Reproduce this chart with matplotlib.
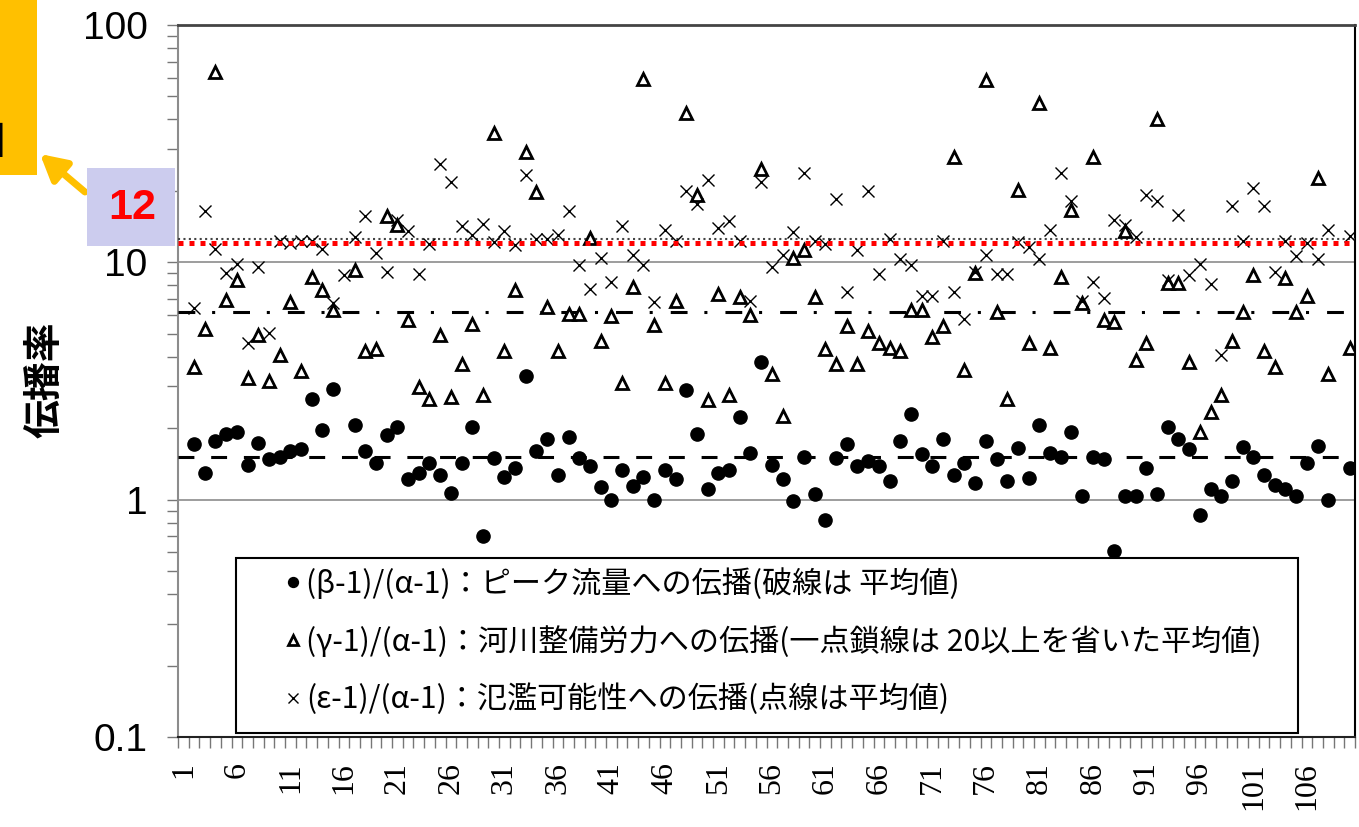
import numpy as np
import matplotlib
matplotlib.use('Agg')
import matplotlib.pyplot as plt
from matplotlib.patches import Rectangle
from matplotlib.ticker import FixedLocator, NullFormatter

nan = np.nan

# ---------------- data ----------------
categories = list(range(1, 111))

beta_vals = [nan, 1.72, 1.29, 1.77, 1.90, 1.93, 1.40, 1.73, 1.49, 1.52,
             1.60, 1.63, 2.66, 1.96, 2.94, nan, 2.07, 1.60, 1.43, 1.87,
             2.03, 1.22, 1.29, 1.43, 1.27, 1.07, 1.43, 2.03, 0.70, 1.50,
             1.25, 1.36, 3.31, 1.60, 1.81, 1.27, 1.84, 1.50, 1.38, 1.13,
             1.00, 1.33, 1.14, 1.25, 1.00, 1.33, 1.22, 2.90, 1.90, 1.11,
             1.29, 1.33, 2.23, 1.58, 3.79, 1.40, 1.22, 0.99, 1.52, 1.06,
             0.82, 1.50, 1.72, 1.38, 1.45, 1.38, 1.20, 1.77, 2.29, 1.55,
             1.38, 1.81, 1.27, 1.43, 1.18, 1.76, 1.49, 1.20, 1.65, 1.23,
             2.07, 1.58, 1.51, 1.93, 1.04, 1.52, 1.49, 0.61, 1.04, 1.04,
             1.36, 1.06, 2.03, 1.81, 1.63, 0.86, 1.11, 1.04, 1.20, 1.66,
             1.52, 1.27, 1.15, 1.11, 1.04, 1.43, 1.69, 1.00, nan, 1.36]

gamma_vals = [nan, 3.61, 5.23, 63.6, 6.97, 8.39, 3.24, 4.92, 3.17, 4.06,
              6.80, 3.49, 8.68, 7.64, 6.30, nan, 9.29, 4.24, 4.30, 15.7,
              14.4, 5.69, 2.97, 2.66, 4.92, 2.71, 3.73, 5.50, 2.75, 35.2,
              4.24, 7.64, 29.3, 19.8, 6.51, 4.24, 6.03, 6.03, 12.7, 4.68,
              5.97, 3.10, 7.84, 59.4, 5.46, 3.10, 6.85, 42.4, 19.2, 2.62,
              7.33, 2.75, 7.13, 5.98, 24.7, 3.37, 2.25, 10.4, 11.3, 7.13,
              4.30, 3.73, 5.41, 3.73, 5.14, 4.57, 4.34, 4.24, 6.30, 6.30,
              4.85, 5.39, 27.8, 3.51, 8.98, 58.5, 6.15, 2.66, 20.2, 4.57,
              46.9, 4.34, 8.68, 16.6, 6.74, 27.8, 5.69, 5.59, 13.5, 3.86,
              4.57, 40.3, 8.17, 8.17, 3.79, 1.93, 2.33, 2.75, 4.65, 6.15,
              8.83, 4.24, 3.61, 8.62, 6.15, 7.21, 22.7, 3.39, nan, 4.34]

eps_vals = [nan, 6.40, 16.5, 11.4, 9.03, 9.86, 4.57, 9.60, 5.02, 12.3,
            12.1, 12.3, 12.3, 11.4, 6.74, 8.83, 12.8, 15.7, 11.0, 9.13,
            15.1, 13.5, 8.91, 11.9, 26.0, 21.7, 14.2, 13.0, 14.5, 12.2,
            13.5, 11.8, 23.3, 12.6, 12.6, 13.0, 16.5, 9.77, 7.71, 10.4,
            8.25, 14.2, 10.7, 9.77, 6.80, 13.7, 12.3, 19.9, 17.6, 22.3,
            13.9, 15.0, 12.3, 6.85, 21.7, 9.54, 10.7, 13.4, 23.7, 12.3,
            11.9, 18.5, 7.53, 11.3, 19.9, 8.91, 12.6, 10.3, 9.77, 7.21,
            7.21, 12.3, 7.53, 5.79, 9.13, 10.7, 8.91, 8.91, 12.2, 11.6,
            10.3, 13.7, 23.7, 18.2, 6.85, 8.25, 7.05, 15.1, 14.4, 12.8,
            19.2, 18.2, 8.39, 15.8, 8.83, 9.86, 8.12, 4.06, 17.3, 12.3,
            20.5, 17.3, 9.13, 12.3, 10.6, 12.1, 10.3, 13.7, nan, 12.9]

beta_mean = 1.51
gamma_mean_under20 = 6.15
eps_mean = 12.5
highlight_value = 12.1

xtick_positions = list(range(1, 111, 5))
xtick_labels = [str(v) for v in xtick_positions]
ytick_values = [0.1, 1, 10, 100]
ytick_labels = ['0.1', '1', '10', '100']

legend_labels = [
    '(β-1)/(α-1)：ピーク流量への伝播(破線は 平均値)',
    '(γ-1)/(α-1)：河川整備労力への伝播(一点鎖線は 20以上を省いた平均値)',
    '(ε-1)/(α-1)：氾濫可能性への伝播(点線は平均値)',
]
ylabel_text = '伝播率'
highlight_text = '12'
corner_text = '」'

plt.rcParams['font.family'] = ['Noto Sans CJK JP', 'DejaVu Sans']

W, H = 1359, 827
fig = plt.figure(figsize=(W / 100, H / 100), dpi=100)
ax = fig.add_axes([178 / W, 1 - 737 / H, 1177 / W, 712 / H])
ax.set_yscale('log')
ax.set_ylim(0.1, 100)
ax.set_xlim(0.5, 110.5)

# gridlines at decades
for gv in [1, 10]:
    ax.axhline(gv, color='#8c8c8c', lw=1.2, zorder=1)

# series
h1, = ax.plot(categories, beta_vals, linestyle='none', marker='o', ms=9.5,
              color='black', zorder=4)
h2, = ax.plot(categories, gamma_vals, linestyle='none', marker='^', ms=9,
              mfc='white', mec='black', mew=2.0, zorder=4)
h3, = ax.plot(categories, eps_vals, linestyle='none', marker='x', ms=9,
              color='black', mew=1.0, zorder=4)

# mean lines
ax.axhline(beta_mean, color='black', lw=2.2, linestyle=(0, (5.2, 5.5)), zorder=3)
ax.axhline(gamma_mean_under20, color='black', lw=2.2,
           linestyle=(0, (5.5, 5.5, 1, 5.9)), zorder=3)
ax.axhline(eps_mean, color='#444444', lw=1.5, linestyle=(0, (1, 1.6)), zorder=3)
ax.axhline(highlight_value, color='red', lw=3.6, linestyle=(0, (1, 1.2)),
           dash_capstyle='butt', zorder=5)

# axes styling
ax.spines['left'].set_color('#8c8c8c')
ax.spines['left'].set_linewidth(1.5)
ax.spines['bottom'].set_color('#222222')
ax.spines['bottom'].set_linewidth(1.5)
ax.spines['top'].set_color('#444444')
ax.spines['top'].set_linewidth(2.0)
ax.spines['right'].set_color('black')
ax.spines['right'].set_linewidth(1.5)

ax.set_xticks(xtick_positions)
ax.set_xticklabels(xtick_labels, rotation=90, fontfamily='Liberation Serif',
                   fontsize=23)
ax.tick_params(axis='x', which='major', length=0, pad=18)
ax.xaxis.set_minor_locator(FixedLocator(np.arange(0.5, 111, 1)))
ax.tick_params(axis='x', which='minor', length=8, width=1, color='#777777',
               direction='out')

ax.set_yticks(ytick_values)
ax.set_yticklabels(ytick_labels, fontfamily='Liberation Sans', fontsize=28)
ax.yaxis.set_minor_locator(FixedLocator(
    [m * 10.0 ** e for e in (-1, 0, 1) for m in range(2, 10)]))
ax.yaxis.set_minor_formatter(NullFormatter())
ax.tick_params(axis='y', which='both', length=8, width=1, color='#777777',
               direction='out', pad=14)

# legend box
frame = Rectangle((236 / W, 1 - 733 / H), 1062 / W, 175 / H,
                  transform=fig.transFigure, facecolor='white',
                  edgecolor='black', lw=1.5, zorder=6)
fig.patches.append(frame)
leg = fig.legend([h1, h2, h3], legend_labels, loc='upper left',
                 bbox_to_anchor=(264 / W, 1 - 553 / H), frameon=False,
                 fontsize=21.7, handlelength=0.9, handletextpad=0.0,
                 borderpad=0, labelspacing=0.86, markerscale=0.75)
leg.set_zorder(7)

# y label
fig.text(45 / W, 1 - 380 / H, ylabel_text, rotation=90, fontsize=28,
         fontweight='bold', ha='center', va='center')

# top-left annotation
fig.patches.append(Rectangle((0, 1 - 175 / H), 37 / W, 175 / H,
                             transform=fig.transFigure, facecolor='#FFC000',
                             edgecolor='none'))
fig.text(36 / W, 1 - 153 / H, corner_text, fontsize=38, ha='right',
         va='baseline', color='black')
fig.patches.append(Rectangle((87 / W, 1 - 246 / H), 88 / W, 78 / H,
                             transform=fig.transFigure, facecolor='#CCCCEE',
                             edgecolor='none'))
fig.text(132 / W, 1 - 208 / H, highlight_text, fontsize=31, fontweight='bold',
         color='red', ha='center', va='center', fontfamily='Liberation Sans')
ax.annotate('', xy=(40, H - 154), xytext=(85, H - 192),
            xycoords='figure pixels', textcoords='figure pixels',
            arrowprops=dict(arrowstyle='-|>,head_length=0.55,head_width=0.3',
                            color='#FFC000', lw=5, mutation_scale=28,
                            shrinkA=0, shrinkB=0))

fig.savefig('out.png', dpi=100)
